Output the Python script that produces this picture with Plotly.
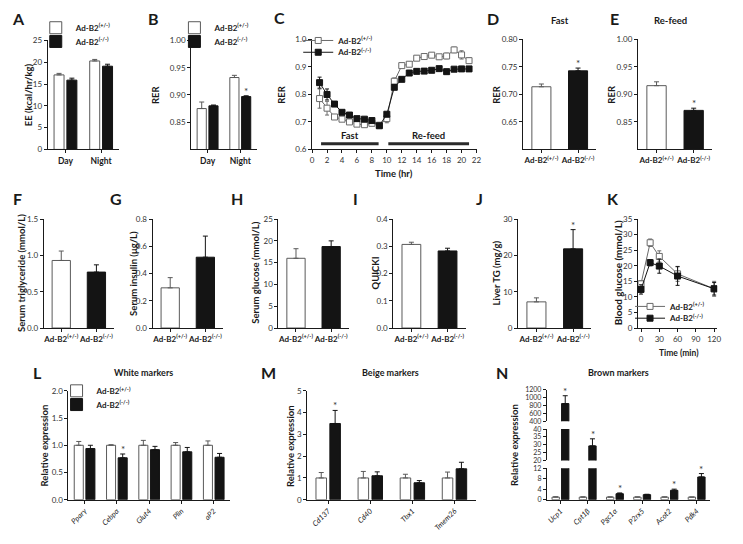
import plotly.graph_objects as go

W, H = 743, 544          # browser window
OFF = 8                  # default page margin around the plot div
FW, FH = W - OFF, H - OFF
FONT = "Lato"
INK = "#1a1a1a"
GRAY = "#5a5a5a"
BLACK = "#141414"

HET = "<b>Ad-B2<sup>(+/-)</sup></b>"
KO = "<b>Ad-B2<sup>(-/-)</sup></b>"
group_keys = ["het", "ko"]
group_labels = [HET, KO]

# ---------------- data ----------------
# A: energy expenditure
ee_periods = ["Day", "Night"]
ee_het = [17.1, 20.3]
ee_het_err = [0.35, 0.35]
ee_ko = [15.9, 19.1]
ee_ko_err = [0.45, 0.45]

# B: RER day/night
rer_periods = ["Day", "Night"]
rer_het = [0.875, 0.932]
rer_het_err = [0.012, 0.004]
rer_ko = [0.880, 0.897]
rer_ko_err = [0.0015, 0.0015]
rer_sig = [False, True]

# C: RER time course
time_hr = [1, 2, 3, 4, 5, 6, 7, 8, 9, 10, 11, 12, 13, 14, 15, 16, 17, 18, 19, 20, 21]
rer_t_het = [0.785, 0.750, 0.718, 0.710, 0.700, 0.692, 0.690, 0.695, 0.688, 0.712, 0.848,
             0.905, 0.910, 0.932, 0.938, 0.943, 0.937, 0.940, 0.962, 0.944, 0.923]
rer_t_het_err = [0.035, 0.025, 0.005, 0.004, 0.004, 0.004, 0.004, 0.004, 0.004, 0.015, 0.012,
                 0.006, 0.008, 0.007, 0.006, 0.007, 0.008, 0.010, 0.010, 0.015, 0.010]
rer_t_ko = [0.843, 0.800, 0.765, 0.735, 0.725, 0.712, 0.710, 0.705, 0.686, 0.728, 0.826,
            0.855, 0.878, 0.884, 0.885, 0.888, 0.894, 0.883, 0.892, 0.893, 0.893]
rer_t_ko_err = [0.020, 0.020, 0.006, 0.005, 0.004, 0.004, 0.004, 0.004, 0.004, 0.005, 0.008,
                0.006, 0.005, 0.004, 0.004, 0.004, 0.004, 0.004, 0.004, 0.004, 0.004]
phase_names = ["Fast", "Re-feed"]
phase_start = [1.2, 10.2]
phase_end = [8.9, 21.0]
phase_level = 0.621

# D, E: RER fast / re-feed
rer_fast = [0.714, 0.743]
rer_fast_err = [0.005, 0.005]
rer_fast_sig = [False, True]
rer_refeed = [0.916, 0.871]
rer_refeed_err = [0.007, 0.004]
rer_refeed_sig = [False, True]

# F-J: serum / liver
serum_tg = [0.93, 0.77]
serum_tg_err = [0.13, 0.10]
serum_ins = [0.295, 0.52]
serum_ins_err = [0.075, 0.155]
serum_glu = [16.0, 18.7]
serum_glu_err = [2.2, 1.3]
quicki = [0.307, 0.283]
quicki_err = [0.008, 0.010]
liver_tg = [7.2, 21.8]
liver_tg_err = [1.1, 5.3]
liver_tg_sig = [False, True]

# K: glucose tolerance
gtt_min = [0, 15, 30, 60, 120]
gtt_het = [14.2, 27.4, 23.0, 17.4, 12.6]
gtt_het_err = [1.0, 1.2, 1.8, 2.4, 2.4]
gtt_ko = [12.4, 21.0, 19.9, 16.7, 12.6]
gtt_ko_err = [1.5, 1.0, 2.3, 3.0, 2.0]

# L: white markers
white_genes = ["Pparγ", "Cebpα", "Glut4", "Plin", "aP2"]
white_het = [1.0, 1.0, 1.0, 1.0, 1.0]
white_het_err = [0.07, 0.01, 0.09, 0.05, 0.08]
white_ko = [0.94, 0.77, 0.92, 0.88, 0.78]
white_ko_err = [0.06, 0.07, 0.06, 0.08, 0.07]
white_sig = [False, True, False, False, False]

# M: beige markers
beige_genes = ["Cd137", "Cd40", "Tbx1", "Tmem26"]
beige_het = [1.0, 1.0, 1.0, 1.0]
beige_het_err = [0.25, 0.30, 0.17, 0.27]
beige_ko = [3.5, 1.1, 0.78, 1.42]
beige_ko_err = [0.60, 0.18, 0.10, 0.30]
beige_sig = [True, False, False, False]

# N: brown markers (broken axis)
brown_genes = ["Ucp1", "Cpt1β", "Pgc1α", "P2rx5", "Acot2", "Pdk4"]
brown_het = [1.0, 1.0, 1.0, 1.0, 1.0, 1.0]
brown_het_err = [0.15, 0.10, 0.10, 0.10, 0.10, 0.05]
brown_ko = [850, 29.3, 2.3, 1.95, 3.6, 8.7]
brown_ko_err = [200, 4.5, 0.3, 0.15, 0.45, 1.3]
brown_sig = [True, True, True, False, True, True]
brown_ranges = [[400, 1200], [20, 40], [0, 12]]
brown_dticks = [200, 5, 4]

# ---------------- helpers ----------------
fig = go.Figure()
layout = {}
annotations = []
shapes = []
panels = {}
legends = {}

TICKFONT = dict(family=FONT, size=8, color="#333")
CATFONT = dict(family=FONT, size=8, color=INK)


def fx(p):
    return (p - OFF) / FW


def fy(p):
    return 1 - (p - OFF) / FH


def dom_x(a, b):
    return [fx(a), fx(b)]


def dom_y(top, bottom):
    return [fy(bottom), fy(top)]


def axis_names(i):
    s = "" if i == 1 else str(i)
    return "xaxis" + s, "yaxis" + s, "x" + s, "y" + s


def base_axis(**kw):
    d = dict(showline=True, linecolor=INK, linewidth=1, ticks="outside", ticklen=3,
             tickwidth=1, tickcolor=INK, showgrid=False, zeroline=False,
             tickfont=TICKFONT, fixedrange=True, tickangle=0)
    d.update(kw)
    return d


def panel(i, xpx, ypx, xkw, ykw, ncat=None):
    xa, ya, xr, yr = axis_names(i)
    layout[xa] = base_axis(domain=dom_x(*xpx), anchor=yr, **xkw)
    layout[ya] = base_axis(domain=dom_y(*ypx), anchor=xr, **ykw)
    panels[i] = dict(x=xr, y=yr, xpx=xpx, ypx=ypx, ncat=ncat)


def add_legend(name, xpx, ypx, size=8, lead=23):
    # xpx: centre of the legend swatch; text follows ~20 px after that centre
    legends[name] = dict(x=fx(xpx - lead), y=fy(ypx - 4), xanchor="left", yanchor="middle",
                         bgcolor="rgba(0,0,0,0)", font=dict(family=FONT, size=size, color=INK),
                         itemwidth=30, tracegroupgap=0, borderwidth=0)


def bars(i, cats, vals, errs, kind, width, offset=None, legend=None):
    p = panels[i]
    white = kind == "het"
    col = GRAY if white else BLACK
    fig.add_trace(go.Bar(
        x=cats, y=vals, width=width, offset=offset,
        marker=dict(color="white" if white else BLACK, line=dict(color=col, width=1)),
        error_y=dict(type="data", array=errs, arrayminus=[0] * len(errs), symmetric=False,
                     color=col, thickness=1, width=2.5),
        xaxis=p["x"], yaxis=p["y"], name=HET if white else KO,
        showlegend=legend is not None, legend=legend or "legend", hoverinfo="skip"))


def lines(i, xs, vals, errs, kind, legend=None):
    p = panels[i]
    white = kind == "het"
    col = "#6a6a6a" if white else BLACK
    fig.add_trace(go.Scatter(
        x=xs, y=vals, mode="lines+markers",
        line=dict(color=col, width=1),
        marker=dict(symbol="square", size=6, color="white" if white else BLACK,
                    line=dict(color=col, width=1)),
        error_y=dict(type="data", array=errs, color=col, thickness=1, width=2),
        xaxis=p["x"], yaxis=p["y"], name=HET if white else KO,
        showlegend=legend is not None, legend=legend or "legend", hoverinfo="skip"))


def star(i, cat, top, shift_units=0.0, yref=None):
    p = panels[i]
    catpx = (p["xpx"][1] - p["xpx"][0]) / p["ncat"] if p["ncat"] else 0
    annotations.append(dict(x=cat, y=top, xref=p["x"], yref=yref or p["y"], text="*",
                            showarrow=False, yanchor="bottom", xanchor="center",
                            xshift=shift_units * catpx, yshift=-3,
                            font=dict(family=FONT, size=10, color="#333")))


def text_px(text, xpx, ypx, size=9.5, angle=0, bold=True):
    annotations.append(dict(text=f"<b>{text}</b>" if bold else text, x=fx(xpx), y=fy(ypx),
                            xref="paper", yref="paper", textangle=angle, showarrow=False,
                            xanchor="center", yanchor="middle",
                            font=dict(family=FONT, size=size, color=INK)))


GW, WOFF, BOFF = 0.28, -0.32, 0.04   # grouped bar width / offsets
SW = 0.52                            # single bar width

two_cat_x = dict(tickvals=group_keys, ticktext=group_labels, tickfont=CATFONT)
period_font = dict(family=FONT, size=8.5, color=INK)

# ---------------- row 1 ----------------
# A
panel(1, (46, 118), (36, 147), dict(tickfont=period_font,
                                    ticktext=[f"<b>{p}</b>" for p in ee_periods], tickvals=ee_periods),
      dict(range=[0, 25], dtick=5), ncat=2)
bars(1, ee_periods, ee_het, ee_het_err, "het", GW, WOFF, legend="legend")
bars(1, ee_periods, ee_ko, ee_ko_err, "ko", GW, BOFF, legend="legend6")
add_legend("legend", 57, 27)
add_legend("legend6", 57, 41)
text_px("EE (kcal/hr/kg)", 27, 91, 9.5, -90)

# B
panel(2, (191, 257), (36, 147), dict(tickfont=period_font,
                                     ticktext=[f"<b>{p}</b>" for p in rer_periods], tickvals=rer_periods),
      dict(range=[0.80, 1.00], tickvals=[0.85, 0.90, 0.95, 1.00], tickformat=".2f"), ncat=2)
bars(2, rer_periods, rer_het, rer_het_err, "het", GW, WOFF, legend="legend2")
bars(2, rer_periods, rer_ko, rer_ko_err, "ko", GW, BOFF, legend="legend7")
add_legend("legend2", 197, 27)
add_legend("legend7", 197, 41)
for c, v, e, s in zip(rer_periods, rer_ko, rer_ko_err, rer_sig):
    if s:
        star(2, c, v + e, BOFF + GW / 2)
text_px("RER", 155, 91, 9.5, -90)

# C
panel(3, (313, 479), (35, 147), dict(range=[0, 22], tickvals=list(range(0, 23, 2))),
      dict(range=[0.6, 1.0], tickvals=[0.6, 0.7, 0.8, 0.9, 1.0], tickformat=".1f"))
lines(3, time_hr, rer_t_het, rer_t_het_err, "het", legend="legend3")
lines(3, time_hr, rer_t_ko, rer_t_ko_err, "ko", legend="legend8")
add_legend("legend3", 323, 40, lead=24)
add_legend("legend8", 323, 52, lead=24)
for n, a, b in zip(phase_names, phase_start, phase_end):
    shapes.append(dict(type="line", xref="x3", yref="y3", x0=a, x1=b, y0=phase_level, y1=phase_level,
                       line=dict(color="#2a2a2a", width=3)))
    annotations.append(dict(x=(a + b) / 2, y=phase_level, xref="x3", yref="y3", text=f"<b>{n}</b>",
                            showarrow=False, yanchor="bottom", yshift=1,
                            font=dict(family=FONT, size=9.5, color=INK)))
text_px("RER", 282, 91, 9.5, -90)
text_px("Time (hr)", 396, 172, 9.5)

# D
panel(4, (526, 600), (35, 147), two_cat_x,
      dict(range=[0.60, 0.80], tickvals=[0.65, 0.70, 0.75, 0.80], tickformat=".2f"), ncat=2)
bars(4, ["het"], rer_fast[:1], rer_fast_err[:1], "het", SW)
bars(4, ["ko"], rer_fast[1:], rer_fast_err[1:], "ko", SW)
for c, v, e, s in zip(group_keys, rer_fast, rer_fast_err, rer_fast_sig):
    if s:
        star(4, c, v + e)
text_px("RER", 499, 91, 9.5, -90)
text_px("Fast", 563, 16, 9.5)

# E
panel(5, (642, 717), (35, 147), two_cat_x,
      dict(range=[0.80, 1.00], tickvals=[0.85, 0.90, 0.95, 1.00], tickformat=".2f"), ncat=2)
bars(5, ["het"], rer_refeed[:1], rer_refeed_err[:1], "het", SW)
bars(5, ["ko"], rer_refeed[1:], rer_refeed_err[1:], "ko", SW)
for c, v, e, s in zip(group_keys, rer_refeed, rer_refeed_err, rer_refeed_sig):
    if s:
        star(5, c, v + e)
text_px("RER", 615, 91, 9.5, -90)
text_px("Re-feed", 675, 16, 9.5)

# ---------------- row 2 ----------------
single_specs = [
    (6, (42, 113), serum_tg, serum_tg_err, None, dict(range=[0, 1.5], dtick=0.5, tickformat=".1f"),
     "Serum triglyceride (mmol/L)", 19),
    (7, (152, 223), serum_ins, serum_ins_err, None, dict(range=[0, 0.8], dtick=0.2, tickformat=".1f"),
     "Serum insulin (μg/L)", 132),
    (8, (279, 350), serum_glu, serum_glu_err, None, dict(range=[0, 25], dtick=5),
     "Serum glucose (mmol/L)", 255),
    (9, (395, 468), quicki, quicki_err, None, dict(range=[0, 0.4], dtick=0.1, tickformat=".1f"),
     "QUICKI", 377),
    (10, (521, 595), liver_tg, liver_tg_err, liver_tg_sig, dict(range=[0, 30], dtick=10),
     "Liver TG (mg/g)", 499),
]
for i, xpx, vals, errs, sig, ykw, title, tx in single_specs:
    panel(i, xpx, (218, 329), two_cat_x, ykw, ncat=2)
    bars(i, ["het"], vals[:1], errs[:1], "het", SW)
    bars(i, ["ko"], vals[1:], errs[1:], "ko", SW)
    if sig:
        for c, v, e, s in zip(group_keys, vals, errs, sig):
            if s:
                star(i, c, v + e)
    text_px(title, tx, 273, 9.5, -90)

# K
panel(11, (642, 722), (218, 329), dict(range=[-5, 125], tickvals=[0, 30, 60, 90, 120]),
      dict(range=[0, 35], dtick=5))
lines(11, gtt_min, gtt_het, gtt_het_err, "het", legend="legend4")
lines(11, gtt_min, gtt_ko, gtt_ko_err, "ko", legend="legend9")
add_legend("legend4", 658, 311, lead=24)
add_legend("legend9", 658, 323, lead=24)
text_px("Blood glucose (mmol/L)", 622, 273, 10, -90)
text_px("Time (min)", 683, 354, 8.5)

# ---------------- row 3 ----------------
def gene_axis(genes):
    return dict(tickvals=genes, ticktext=[f"<i>{g}</i>" for g in genes], tickangle=-45,
                tickfont=dict(family=FONT, size=7.5, color=INK))

# L
panel(12, (67, 230), (393, 504), gene_axis(white_genes), dict(range=[0, 2], dtick=0.5, tickformat=".1f"),
      ncat=len(white_genes))
bars(12, white_genes, white_het, white_het_err, "het", GW, WOFF, legend="legend5")
bars(12, white_genes, white_ko, white_ko_err, "ko", GW, BOFF, legend="legend10")
add_legend("legend5", 78, 397)
add_legend("legend10", 78, 411)
for c, v, e, s in zip(white_genes, white_ko, white_ko_err, white_sig):
    if s:
        star(12, c, v + e, BOFF + GW / 2)
text_px("Relative expression", 43, 449, 9.5, -90)
text_px("White markers", 143, 374, 9)

# M
MW, MWO, MBO = 0.25, -0.29, 0.04
panel(13, (308, 478), (393, 504), gene_axis(beige_genes), dict(range=[0, 5], dtick=1),
      ncat=len(beige_genes))
bars(13, beige_genes, beige_het, beige_het_err, "het", MW, MWO)
bars(13, beige_genes, beige_ko, beige_ko_err, "ko", MW, MBO)
for c, v, e, s in zip(beige_genes, beige_ko, beige_ko_err, beige_sig):
    if s:
        star(13, c, v + e, MBO + MW / 2)
text_px("Relative expression", 291, 449, 9.5, -90)
text_px("Beige markers", 392, 374, 9)

# N (three stacked segments, top -> bottom)
NW, NWO, NBO = 0.27, -0.31, 0.04
seg_px = [(392, 424), (432, 464), (472, 504)]
for k, (rng, dt, ypx) in enumerate(zip(brown_ranges, brown_dticks, seg_px)):
    i = 14 + k
    last = k == len(seg_px) - 1
    xkw = gene_axis(brown_genes) if last else dict(visible=False)
    panel(i, (550, 715), ypx, xkw,
          dict(range=rng, dtick=dt, tickfont=dict(family=FONT, size=7, color="#333")),
          ncat=len(brown_genes))
    bars(i, brown_genes, brown_het, brown_het_err, "het", NW, NWO)
    bars(i, brown_genes, brown_ko, brown_ko_err, "ko", NW, NBO)
    for c, v, e, s in zip(brown_genes, brown_ko, brown_ko_err, brown_sig):
        if s and rng[0] <= v + e <= rng[1]:
            star(i, c, v + e, NBO + NW / 2)
text_px("Relative expression", 518, 448, 9.5, -90)
text_px("Brown markers", 622, 374, 9)

# panel letters
letters = [("A", 17, 14), ("B", 153, 14), ("C", 280, 13), ("D", 496, 14), ("E", 618, 14),
           ("F", 16, 197), ("G", 115, 197), ("H", 237, 197), ("I", 357, 197), ("J", 482, 197),
           ("K", 617, 197), ("L", 36, 374), ("M", 269, 374), ("N", 505, 374)]
for t, x, y in letters:
    text_px(t, x, y, 16)

layout.update(dict(
    width=FW, height=FH, autosize=False,
    margin=dict(l=0, r=0, t=0, b=0),
    paper_bgcolor="white", plot_bgcolor="white",
    barmode="overlay",
    font=dict(family=FONT, color=INK),
    annotations=annotations, shapes=shapes,
))
layout.update(legends)
fig.update_layout(**layout)
fig.write_html("out.html")
